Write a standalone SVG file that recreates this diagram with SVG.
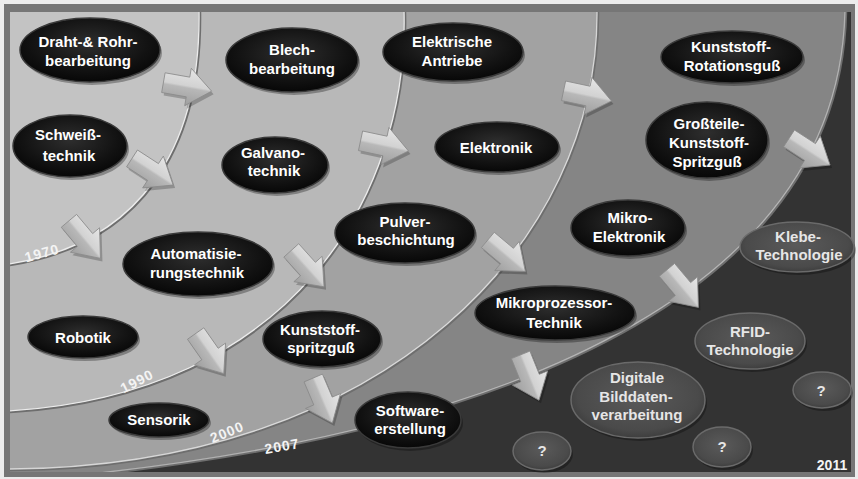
<svg xmlns="http://www.w3.org/2000/svg" width="858" height="479" viewBox="0 0 858 479">
<defs>
<style>
.t{font-family:"Liberation Sans",Arial,Helvetica,sans-serif;font-weight:bold;font-size:15px;fill:#fff;text-anchor:middle}
.tf{fill:#e6e6e6}
.yr{font-size:14px;letter-spacing:1px;fill:#f4f4f4}
.n{fill:url(#gBlack);stroke:#3a3a3a;stroke-width:1.5}
.f{fill:url(#gGray);stroke:#6a6a6a;stroke-width:1.5}
.sh{fill:#000;opacity:.3}
.cl{fill:none;stroke:#6e6e6e;stroke-width:2.5}
.ch{fill:none;stroke:#ececec;stroke-width:1.3}
.ar{fill:url(#gArrow);stroke:#8a8a8a;stroke-width:.8}
.as{fill:#000;opacity:.22}
</style>
<radialGradient id="gBlack" cx="50%" cy="40%" r="60%">
<stop offset="0" stop-color="#2e2e2e"/><stop offset=".7" stop-color="#121212"/><stop offset="1" stop-color="#070707"/>
</radialGradient>
<radialGradient id="gGray" cx="50%" cy="45%" r="60%">
<stop offset="0" stop-color="#5a5a5a"/><stop offset=".75" stop-color="#4a4a4a"/><stop offset="1" stop-color="#383838"/>
</radialGradient>
<linearGradient id="gArrow" x1="0" y1="0" x2="0" y2="1">
<stop offset="0" stop-color="#e6e6e6"/><stop offset=".47" stop-color="#d2d2d2"/><stop offset=".53" stop-color="#b8b8b8"/><stop offset="1" stop-color="#9e9e9e"/>
</linearGradient>
<path id="arr" d="M-25,-10 H0 V-19 L24,0 L0,19 V10 H-25 Z"/>
<clipPath id="panel"><rect x="10" y="12" width="841" height="460"/></clipPath>
</defs>

<rect x="0" y="0" width="858" height="479" fill="#ececec"/>
<rect x="4" y="4" width="851" height="473" fill="#767676"/>

<g id="bands" clip-path="url(#panel)">
<rect x="10" y="12" width="841" height="460" fill="#333333"/>
<path d="M10,12 H846 C840,280 540,425 100,474 L10,476 Z" fill="#858585"/>
<path d="M10,12 H598 C600,240 390,468 10,470 Z" fill="#a2a2a2"/>
<path d="M10,12 H405 C410,200 290,395 10,412 Z" fill="#b8b8b8"/>
<path d="M10,12 H200 C202,150 140,245 10,265 Z" fill="#c3c3c3"/>
<path class="cl" d="M846,12 C840,280 540,425 100,474 L10,476"/>
<path class="ch" d="M846,12 C840,280 540,425 100,474 L10,476" transform="translate(-1,-1)" opacity=".5"/>
<path class="cl" d="M598,12 C600,240 390,468 10,470"/>
<path class="ch" d="M598,12 C600,240 390,468 10,470" transform="translate(-1,-1)" opacity=".8"/>
<path class="cl" d="M405,12 C410,200 290,395 10,412"/>
<path class="ch" d="M405,12 C410,200 290,395 10,412" transform="translate(-1,-1)"/>
<path class="cl" d="M200,12 C202,150 140,245 10,265"/>
<path class="ch" d="M200,12 C202,150 140,245 10,265" transform="translate(-1,-1)"/>
</g>

<g id="years" class="t yr">
<text x="42" y="258" transform="rotate(-15 42 253)">1970</text>
<text x="137" y="386" transform="rotate(-27 137 381)">1990</text>
<text x="227" y="437" transform="rotate(-22 227 432)">2000</text>
<text x="282" y="451" transform="rotate(-10 282 446)">2007</text>
<text x="832" y="470" style="letter-spacing:0">2011</text>
</g>

<g id="connectors">
<use href="#arr" class="as" transform="translate(190,90) rotate(10)"/>
<use href="#arr" class="ar" transform="translate(188,87) rotate(10)"/>
<use href="#arr" class="as" transform="translate(155,175) rotate(33)"/>
<use href="#arr" class="ar" transform="translate(153,172) rotate(33)"/>
<use href="#arr" class="as" transform="translate(87,243) rotate(50)"/>
<use href="#arr" class="ar" transform="translate(85,240) rotate(50)"/>
<use href="#arr" class="as" transform="translate(387,149) rotate(12)"/>
<use href="#arr" class="ar" transform="translate(385,146) rotate(12)"/>
<use href="#arr" class="as" transform="translate(310,272) rotate(48)"/>
<use href="#arr" class="ar" transform="translate(308,269) rotate(48)"/>
<use href="#arr" class="as" transform="translate(212,357) rotate(55)"/>
<use href="#arr" class="ar" transform="translate(210,354) rotate(55)"/>
<use href="#arr" class="as" transform="translate(590,99) rotate(12)"/>
<use href="#arr" class="ar" transform="translate(588,96) rotate(12)"/>
<use href="#arr" class="as" transform="translate(509,259) rotate(40)"/>
<use href="#arr" class="ar" transform="translate(507,256) rotate(40)"/>
<use href="#arr" class="as" transform="translate(325,404) rotate(67)"/>
<use href="#arr" class="ar" transform="translate(323,401) rotate(67)"/>
<use href="#arr" class="as" transform="translate(812,155) rotate(33)"/>
<use href="#arr" class="ar" transform="translate(810,152) rotate(33)"/>
<use href="#arr" class="as" transform="translate(685,292) rotate(50)"/>
<use href="#arr" class="ar" transform="translate(683,289) rotate(50)"/>
<use href="#arr" class="as" transform="translate(532,381) rotate(68)"/>
<use href="#arr" class="ar" transform="translate(530,378) rotate(68)"/>
</g>

<g id="n-draht"><ellipse class="sh" cx="92" cy="53" rx="70" ry="32"/><ellipse class="n" cx="90" cy="50" rx="70" ry="32"/>
<text class="t" x="88" y="47">Draht-&amp; Rohr-</text><text class="t" x="88" y="66">bearbeitung</text></g>
<g id="n-schweiss"><ellipse class="sh" cx="72" cy="149" rx="57" ry="31"/><ellipse class="n" cx="70" cy="146" rx="57" ry="31"/>
<text class="t" x="68" y="140">Schweiß-</text><text class="t" x="69" y="161">technik</text></g>
<g id="n-blech"><ellipse class="sh" cx="294" cy="63" rx="66" ry="32"/><ellipse class="n" cx="292" cy="60" rx="66" ry="32"/>
<text class="t" x="292" y="55">Blech-</text><text class="t" x="292" y="74">bearbeitung</text></g>
<g id="n-galvano"><ellipse class="sh" cx="277" cy="168" rx="53" ry="28"/><ellipse class="n" cx="275" cy="165" rx="53" ry="28"/>
<text class="t" x="273" y="158">Galvano-</text><text class="t" x="274" y="176">technik</text></g>
<g id="n-antriebe"><ellipse class="sh" cx="455" cy="55" rx="70" ry="29"/><ellipse class="n" cx="453" cy="52" rx="70" ry="29"/>
<text class="t" x="452" y="47">Elektrische</text><text class="t" x="452" y="66">Antriebe</text></g>
<g id="n-elektronik"><ellipse class="sh" cx="499" cy="150" rx="62" ry="25"/><ellipse class="n" cx="497" cy="147" rx="62" ry="25"/>
<text class="t" x="496" y="153">Elektronik</text></g>
<g id="n-pulver"><ellipse class="sh" cx="407" cy="236" rx="70" ry="30"/><ellipse class="n" cx="405" cy="233" rx="70" ry="30"/>
<text class="t" x="405" y="227">Pulver-</text><text class="t" x="406" y="245">beschichtung</text></g>
<g id="n-automat"><ellipse class="sh" cx="200" cy="267" rx="75" ry="32"/><ellipse class="n" cx="198" cy="264" rx="75" ry="32"/>
<text class="t" x="196" y="259">Automatisie-</text><text class="t" x="197" y="278">rungstechnik</text></g>
<g id="n-robotik"><ellipse class="sh" cx="85" cy="340" rx="55" ry="21"/><ellipse class="n" cx="83" cy="337" rx="55" ry="21"/>
<text class="t" x="83" y="343">Robotik</text></g>
<g id="n-kspritz"><ellipse class="sh" cx="324" cy="342" rx="59" ry="28"/><ellipse class="n" cx="322" cy="339" rx="59" ry="28"/>
<text class="t" x="320" y="335">Kunststoff-</text><text class="t" x="321" y="353">spritzguß</text></g>
<g id="n-sensorik"><ellipse class="sh" cx="161" cy="423" rx="50" ry="17"/><ellipse class="n" cx="159" cy="420" rx="50" ry="17"/>
<text class="t" x="159" y="425">Sensorik</text></g>
<g id="n-software"><ellipse class="sh" cx="410" cy="423" rx="53" ry="28"/><ellipse class="n" cx="408" cy="420" rx="53" ry="28"/>
<text class="t" x="410" y="416">Software-</text><text class="t" x="410" y="434">erstellung</text></g>
<g id="n-mikroproz"><ellipse class="sh" cx="557" cy="316" rx="80" ry="27"/><ellipse class="n" cx="555" cy="313" rx="80" ry="27"/>
<text class="t" x="554" y="308">Mikroprozessor-</text><text class="t" x="554" y="328">Technik</text></g>
<g id="n-rotation"><ellipse class="sh" cx="734" cy="60" rx="71" ry="26"/><ellipse class="n" cx="732" cy="57" rx="71" ry="26"/>
<text class="t" x="731" y="52">Kunststoff-</text><text class="t" x="732" y="71">Rotationsguß</text></g>
<g id="n-grossteile"><ellipse class="sh" cx="709" cy="143" rx="61" ry="38"/><ellipse class="n" cx="707" cy="140" rx="61" ry="38"/>
<text class="t" x="709" y="129">Großteile-</text><text class="t" x="709" y="148">Kunststoff-</text><text class="t" x="707" y="167">Spritzguß</text></g>
<g id="n-mikroelek"><ellipse class="sh" cx="630" cy="231" rx="57" ry="28"/><ellipse class="n" cx="628" cy="228" rx="57" ry="28"/>
<text class="t" x="630" y="223">Mikro-</text><text class="t" x="629" y="242">Elektronik</text></g>
<g id="n-klebe"><ellipse class="sh" cx="799" cy="250" rx="57" ry="25"/><ellipse class="f" cx="797" cy="247" rx="57" ry="25"/>
<text class="t tf" x="798" y="242">Klebe-</text><text class="t tf" x="799" y="260">Technologie</text></g>
<g id="n-rfid"><ellipse class="sh" cx="752" cy="344" rx="55" ry="28"/><ellipse class="f" cx="750" cy="341" rx="55" ry="28"/>
<text class="t tf" x="750" y="337">RFID-</text><text class="t tf" x="750" y="355">Technologie</text></g>
<g id="n-digitale"><ellipse class="sh" cx="640" cy="403" rx="67" ry="38"/><ellipse class="f" cx="638" cy="400" rx="67" ry="38"/>
<text class="t tf" x="637" y="383">Digitale</text><text class="t tf" x="636" y="402">Bilddaten-</text><text class="t tf" x="637" y="420">verarbeitung</text></g>
<g id="n-q1"><ellipse class="sh" cx="544" cy="454" rx="29" ry="19"/><ellipse class="f" cx="542" cy="451" rx="29" ry="19"/>
<text class="t tf" x="542" y="456">?</text></g>
<g id="n-q2"><ellipse class="sh" cx="724" cy="450" rx="29" ry="20"/><ellipse class="f" cx="722" cy="447" rx="29" ry="20"/>
<text class="t tf" x="722" y="452">?</text></g>
<g id="n-q3"><ellipse class="sh" cx="824" cy="393" rx="29" ry="18"/><ellipse class="f" cx="822" cy="390" rx="29" ry="18"/>
<text class="t tf" x="821" y="396">?</text></g>
</svg>
